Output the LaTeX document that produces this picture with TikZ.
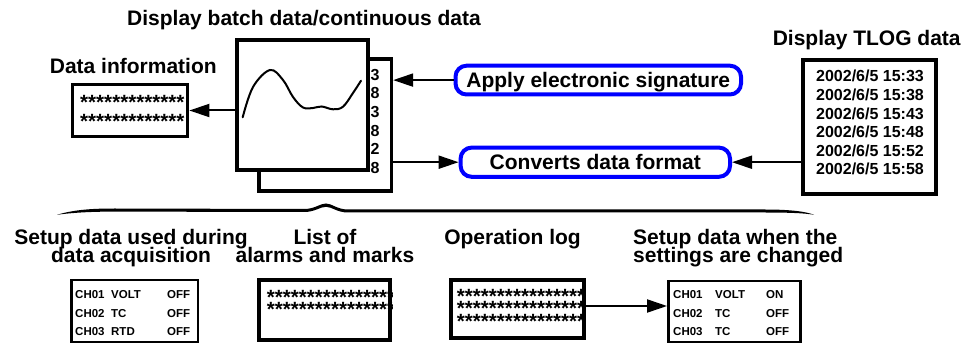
\documentclass[tikz,border=0pt]{standalone}
\usepackage{fontspec}
\setmainfont{Liberation Sans}
\usetikzlibrary{arrows.meta}
\newcommand{\starrow}[1]{\raisebox{-8pt}[7pt][0pt]{#1}}
\begin{document}
\begin{tikzpicture}[x=1pt,y=-1pt,
  lbl/.style={font=\fontsize{21}{21}\selectfont\bfseries, inner sep=0pt, anchor=base},
  small/.style={font=\fontsize{16}{16}\selectfont\bfseries, inner sep=0pt, anchor=base},
  tiny/.style={font=\fontsize{11.5}{11.5}\selectfont\bfseries, inner sep=0pt, anchor=base west},
  stars/.style={inner sep=0pt, anchor=north west, align=left},
  box/.style={draw, rectangle, inner sep=0pt},
  thickbox/.style={box, line width=4pt},
  midbox/.style={box, line width=3.3pt},
  thinbox/.style={box, line width=2.5pt},
  bluebox/.style={draw=blue, line width=4pt, rounded corners=11pt, inner sep=0pt,
    font=\fontsize{21}{21}\selectfont\bfseries, text height=15pt, text depth=0pt},
  arr/.style={line width=2pt, -{Triangle[length=20pt,width=13pt]}},
]
\useasboundingbox (0,0) rectangle (971,344);

% titles
\node[lbl] (title) at (304,25.7) {Display batch data/continuous data};
\node[lbl] (dilbl) at (133.3,74) {Data information};
\node[lbl] (tloglbl) at (866.7,45.7) {Display TLOG data};

% display: back sheet, numbers, front sheet
\node[midbox, minimum width=132.5pt, minimum height=132pt] (back) at (325.25,125) {};
\foreach \n/\y [count=\i] in {3/80.7, 8/99, 3/118, 8/136.7, 2/154.7, 8/173.4}
  \node[small, anchor=base west] (num\i) at (370.5,\y) {\n};
\node[thickbox, fill=white, minimum width=131pt, minimum height=130pt] (front) at (302.5,105.3) {};
\draw[line width=2pt, line cap=round] plot[smooth, tension=0.6] coordinates {
  (242.7,117.3) (253,87) (270,70) (283,80) (293,97) (303,107.5) (313,108)
  (321.7,106.5) (333,109.3) (343,106.7) (353,93) (361,80.7)};

% data information
\node[midbox, minimum width=115.4pt, minimum height=52.4pt] (dinfo) at (130,110.5) {};
\begin{scope}
  \clip (dinfo.north west) rectangle (dinfo.south east);
  \node[stars, font=\fontsize{20.6}{19}\selectfont\bfseries] (dstars) at (80,94.5)
    {\starrow{*************}\\\starrow{*************}};
\end{scope}

% blue process boxes
\node[bluebox, minimum width=285.5pt, minimum height=28.8pt] (apply) at (598.25,80.1) {Apply electronic signature};
\node[bluebox, minimum width=269.4pt, minimum height=29.2pt] (conv) at (595.3,162.2) {Converts data format};

% TLOG box
\node[thickbox, minimum width=133.2pt, minimum height=133.5pt] (tlog) at (869.2,127) {};
\foreach \t/\y [count=\i] in {15:33/81.7, 15:38/100.4, 15:43/119.1, 15:48/137.7, 15:52/156.4, 15:58/175}
  \node[small] (d\i) at (870,\y) {2002/6/5 \t};

% arrows (top)
\draw[arr] (front.west |- dinfo.east) -- (dinfo.east);
\draw[arr] (apply.west) -- (apply.west -| back.east);
\draw[arr] (back.east |- conv.west) -- (conv.west);
\draw[arr] (tlog.west |- conv.east) -- (conv.east);

% brace
\fill (57,214.8) .. controls (75,209.3) and (95,208.5) .. (115,208.5) -- (304,209)
  .. controls (315,209) and (320,203.5) .. (326,203.5)
  .. controls (332,203.5) and (337,209.5) .. (348,209.5) -- (765,209.5)
  .. controls (790,209.5) and (806,211.5) .. (814,214.8)
  .. controls (805,213.2) and (790,212.5) .. (765,212.5) -- (348,212.5)
  .. controls (337,212.5) and (332,206.8) .. (326,206.8)
  .. controls (320,206.8) and (315,212) .. (304,212) -- (115,211.6)
  .. controls (95,211.6) and (75,212.3) .. (57,214.8) -- cycle;

% bottom labels
\node[lbl] (s1a) at (131,245) {Setup data used during};
\node[lbl] (s1b) at (131,263) {data acquisition};
\node[lbl] (la) at (325,245) {List of};
\node[lbl] (lb) at (325,263) {alarms and marks};
\node[lbl] (oplbl) at (512.5,245) {Operation log};
\node[lbl, anchor=base west] (s2a) at (633,245) {Setup data when the};
\node[lbl, anchor=base west] (s2b) at (633,263) {settings are changed};

% setup box 1
\node[thinbox, minimum width=126.5pt, minimum height=62pt] (setup1) at (134.5,311) {};
\node[tiny] (r11) at (75,298.5) {\makebox[36pt][l]{CH01}\makebox[56pt][l]{VOLT}OFF};
\node[tiny] (r12) at (75,317) {\makebox[36pt][l]{CH02}\makebox[56pt][l]{TC}OFF};
\node[tiny] (r13) at (75,335.5) {\makebox[36pt][l]{CH03}\makebox[56pt][l]{RTD}OFF};

% list of alarms
\node[thickbox, minimum width=131pt, minimum height=60pt] (alarms) at (324.5,310) {};
\begin{scope}
  \clip (alarms.north west) rectangle (alarms.south east);
  \node[stars, font=\fontsize{20.6}{12}\selectfont\bfseries] (astars) at (266.7,289.5)
    {\starrow{****************}\\\starrow{****************}};
\end{scope}

% operation log
\node[thickbox, minimum width=133pt, minimum height=58pt] (oplog) at (517.5,309) {};
\begin{scope}
  \clip (oplog.north west) rectangle (oplog.south east);
  \node[stars, font=\fontsize{20.6}{12.5}\selectfont\bfseries] (ostars) at (456.7,288)
    {\starrow{****************}\\\starrow{****************}\\\starrow{****************}};
\end{scope}

% setup box 2
\node[thinbox, minimum width=132.2pt, minimum height=61pt] (setup2) at (734.4,311.5) {};
\node[tiny] (r21) at (673,298.5) {\makebox[42pt][l]{CH01}\makebox[51pt][l]{VOLT}ON};
\node[tiny] (r22) at (673,317) {\makebox[42pt][l]{CH02}\makebox[51pt][l]{TC}OFF};
\node[tiny] (r23) at (673,335.5) {\makebox[42pt][l]{CH03}\makebox[51pt][l]{TC}OFF};

\draw[arr] (oplog.east |- 0,306) -- (setup2.west |- 0,306);
\end{tikzpicture}
\end{document}
